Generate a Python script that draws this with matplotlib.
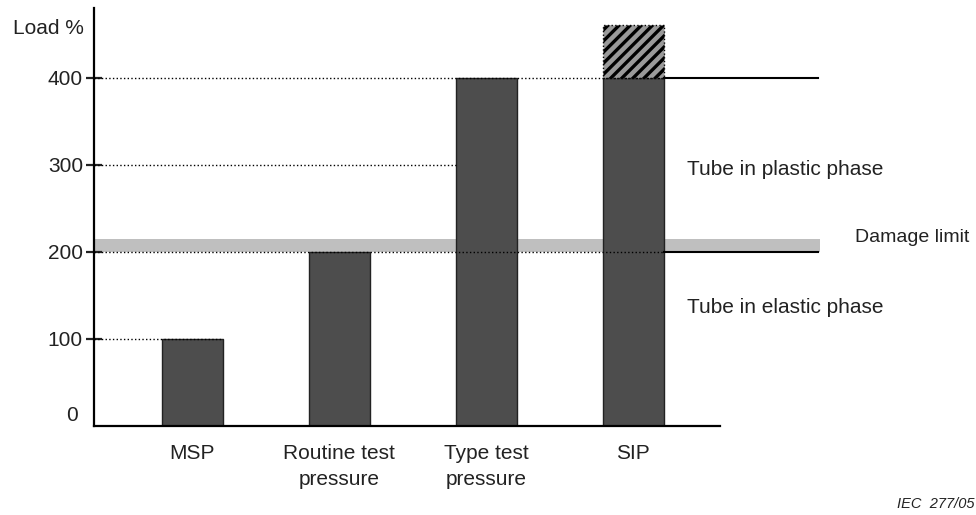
import matplotlib.pyplot as plt

plt.rcParams['font.family'] = ['Liberation Sans', 'DejaVu Sans']
plt.rcParams['hatch.linewidth'] = 2.4

# bar data (load in % of MSP)
categories = ["MSP", "Routine test\npressure", "Type test\npressure", "SIP"]
loads = [100, 200, 400, 400]
sip_extra = 60          # hatched part on top of SIP bar
damage_limit = (200, 215)
yticks = [100, 200, 300, 400]

x = list(range(len(categories)))
bw = 0.415
x0, x1 = -0.667, 5.333
line_end = 4.26
fs = 15
tc = '#222222'

fig = plt.figure(figsize=(9.76, 5.15), dpi=100)
ax = fig.add_axes([94/976, 89/515, 882/976, 418/515])
ax.set_xlim(x0, x1)
ax.set_ylim(0, 480)

# damage limit band
ax.fill_between([x0, line_end + 0.01], damage_limit[0], damage_limit[1],
                color='#bfbfbf', lw=0, zorder=1)

ax.bar(x, loads, width=bw, color='#4d4d4d', edgecolor='#222222', lw=1, zorder=2)
ax.bar(x[3], sip_extra, bottom=loads[3], width=bw, color='#9a9a9a',
       hatch='///', edgecolor='black', lw=1, ls=':', zorder=2)

# reference lines
ax.plot([x0, x[0] + bw/2], [100, 100], ':', color='black', lw=1, zorder=3)
ax.plot([x0, x[3] + bw/2], [200, 200], ':', color='black', lw=1, zorder=3)
ax.plot([x0, x[2] - bw/2], [300, 300], ':', color='black', lw=1, zorder=3)
ax.plot([x0, x[3] + bw/2], [400, 400], ':', color='black', lw=1, zorder=3)
ax.plot([x[3] + bw/2, line_end], [200, 200], '-', color='black', lw=1.5, zorder=3)
ax.plot([x[3] + bw/2, line_end], [400, 400], '-', color='black', lw=1.5, zorder=3)

# axes styling
for s in ['top', 'right']:
    ax.spines[s].set_visible(False)
ax.spines['left'].set_linewidth(1.6)
ax.spines['bottom'].set_linewidth(1.6)
ax.spines['bottom'].set_bounds(x0, 3.59)

ax.set_yticks(yticks)
ax.set_yticklabels([str(v) for v in yticks])
ax.tick_params(axis='y', direction='inout', length=12, width=1.6, labelsize=fs,
               pad=2, colors=tc)
ax.set_xticks(x)
ax.set_xticklabels(categories, fontsize=fs, linespacing=1.45, color=tc)
ax.tick_params(axis='x', length=0, pad=13)

ax.text(x0 - 0.11, 12, "0", ha='right', va='center', fontsize=fs, color=tc)
ax.text(x0 - 0.07, 456, "Load %", ha='right', va='center', fontsize=fs, color=tc)

ax.text(3.37, 295, "Tube in plastic phase", ha='left', va='center', fontsize=fs, color=tc)
ax.text(3.37, 136, "Tube in elastic phase", ha='left', va='center', fontsize=fs, color=tc)
ax.text(4.51, 217, "Damage limit", ha='left', va='center', fontsize=14, color=tc)

fig.text(897/976, 1 - 504/515, "IEC  277/05", ha='left', va='center',
         fontsize=10.5, style='italic', color=tc)

fig.savefig("out.png", dpi=100)
